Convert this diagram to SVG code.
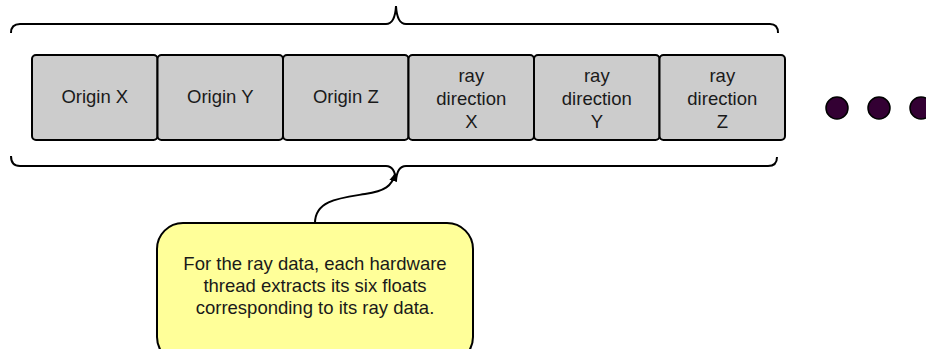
<svg xmlns="http://www.w3.org/2000/svg" width="926" height="349" viewBox="0 0 926 349">
  <defs>
    <style>
      .cell { fill: #cccccc; stroke: #000; stroke-width: 2; }
      .lbl { font-family: "Liberation Sans", Arial, sans-serif; font-size: 18.5px; fill: #1a1a1a; text-anchor: middle; }
      .brace { fill: none; stroke: #000; stroke-width: 2; }
      .dot { fill: #330033; stroke: #000; stroke-width: 1.5; }
      .note { fill: #ffff99; stroke: #000; stroke-width: 2; }
    </style>
    <marker id="arrowhead" viewBox="0 0 10 10" refX="9" refY="5" markerWidth="8" markerHeight="8" markerUnits="userSpaceOnUse" orient="auto">
      <path d="M0,0 L10,5 L0,10 Z" fill="#000"/>
    </marker>
  </defs>

  <!-- braces above and below the record -->
  <g id="braces">
    <path class="brace" d="M11,33 Q11,24 20,24 L386,24 Q395,24 396,6 Q397,24 406,24 L770,24 Q778,24 778,33"/>
    <path class="brace" d="M11,156 Q11,166 20,166 L386,166 Q395,166 396,181 Q397,166 406,166 L768,166 Q777,166 777,157"/>
  </g>

  <!-- record cells -->
  <g id="cell-origin-x">
    <rect class="cell" x="32" y="55" width="125.5" height="85" rx="4"/>
    <text class="lbl" x="94.8" y="103">Origin X</text>
  </g>
  <g id="cell-origin-y">
    <rect class="cell" x="157.5" y="55" width="125.5" height="85" rx="4"/>
    <text class="lbl" x="220.3" y="103">Origin Y</text>
  </g>
  <g id="cell-origin-z">
    <rect class="cell" x="283" y="55" width="125.5" height="85" rx="4"/>
    <text class="lbl" x="345.8" y="103">Origin Z</text>
  </g>
  <g id="cell-dir-x">
    <rect class="cell" x="408.5" y="55" width="125.5" height="85" rx="4"/>
    <text class="lbl" x="471.3" y="82">ray</text>
    <text class="lbl" x="471.3" y="105">direction</text>
    <text class="lbl" x="471.3" y="128">X</text>
  </g>
  <g id="cell-dir-y">
    <rect class="cell" x="534" y="55" width="125.5" height="85" rx="4"/>
    <text class="lbl" x="596.8" y="82">ray</text>
    <text class="lbl" x="596.8" y="105">direction</text>
    <text class="lbl" x="596.8" y="128">Y</text>
  </g>
  <g id="cell-dir-z">
    <rect class="cell" x="659.5" y="55" width="125.5" height="85" rx="4"/>
    <text class="lbl" x="722.3" y="82">ray</text>
    <text class="lbl" x="722.3" y="105">direction</text>
    <text class="lbl" x="722.3" y="128">Z</text>
  </g>

  <!-- continuation dots -->
  <g id="ellipsis">
    <circle class="dot" cx="837" cy="108" r="11"/>
    <circle class="dot" cx="879" cy="108" r="11"/>
    <circle class="dot" cx="921" cy="108" r="11"/>
  </g>

  <!-- callout note -->
  <g id="note">
    <rect class="note" x="157" y="223" width="316" height="140" rx="26"/>
    <text class="lbl" x="315" y="270">For the ray data, each hardware</text>
    <text class="lbl" x="315" y="292">thread extracts its six floats</text>
    <text class="lbl" x="315" y="314">corresponding to its ray data.</text>
  </g>

  <!-- connector -->
  <g id="connectors">
    <path d="M315,223 C315,200 340,198 365,194 C385,191 392,186 395,174" fill="none" stroke="#000" stroke-width="2" marker-end="url(#arrowhead)"/>
  </g>
</svg>
